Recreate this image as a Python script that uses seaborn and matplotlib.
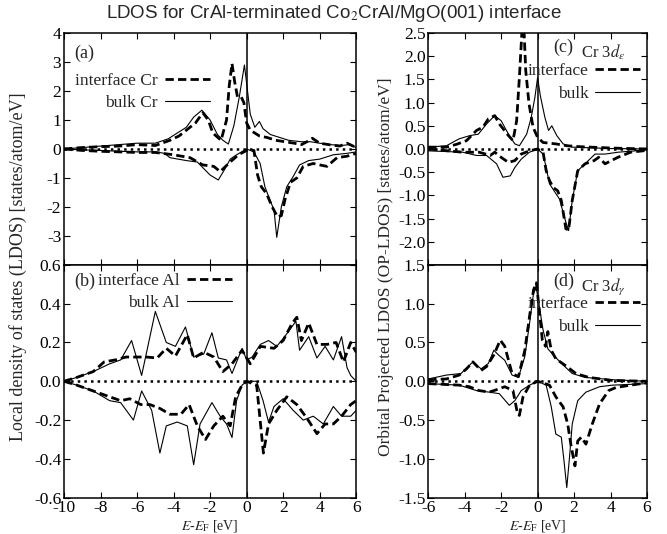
"""
LDOS / OP-LDOS for the CrAl-terminated Co2CrAl/MgO(001) interface.

Four panels: (a) Cr LDOS, (b) Al LDOS, (c) Cr 3d-eps, (d) Cr 3d-gamma.
Dashed = interface layer, thin solid = bulk. Positive = majority, negative = minority.
"""

import matplotlib
matplotlib.use("Agg")
import matplotlib.pyplot as plt
from matplotlib.lines import Line2D
import pandas as pd
import seaborn as sns

# ---- (a) Cr LDOS -------------------------------------------------------------
a_int_up_E = [-10, -9, -8, -7, -6, -5, -4.2, -3.7, -3.2, -2.8, -2.4, -2.1, -1.85, -1.4, -1.1, -0.95,
              -0.8, -0.65, -0.5, -0.3, -0.15, 0.0, 0.2, 0.45, 0.7, 1.1, 1.6, 2.1, 2.6, 3.0, 3.3, 3.6,
              4.0, 4.5, 5.1, 5.5, 6.0]
a_int_up = [0.0, 0.05, 0.08, 0.1, 0.15, 0.12, 0.3, 0.45, 0.7, 0.9, 1.25, 1.0, 0.55, 0.3, 1.0, 2.2,
            2.95, 2.3, 1.8, 1.8, 1.6, 0.9, 0.65, 0.55, 0.45, 0.4, 0.3, 0.25, 0.2, 0.15, 0.25, 0.37,
            0.2, 0.15, 0.1, 0.2, 0.05]
a_bulk_up_E = [-10, -9, -8, -7, -6, -5, -4.3, -3.8, -3.3, -2.9, -2.45, -2.0, -1.6, -1.3, -1.0, -0.7,
               -0.4, -0.12, 0.05, 0.2, 0.45, 0.7, 0.9, 1.3, 1.8, 2.3, 3.0, 3.5, 4.0, 4.6, 5.2, 5.6, 6.0]
a_bulk_up = [0.0, 0.05, 0.1, 0.15, 0.2, 0.2, 0.35, 0.55, 0.75, 1.1, 1.34, 1.0, 0.5, 0.3, 0.17, 0.8,
             1.8, 2.9, 2.0, 1.2, 0.75, 0.95, 0.7, 0.5, 0.4, 0.3, 0.25, 0.25, 0.2, 0.15, 0.12, 0.15, 0.05]
a_int_dn_E = [-10, -9, -8, -7, -6, -5, -4.0, -3.1, -2.4, -1.8, -1.45, -0.9, -0.45, 0.0, 0.4, 0.6,
              0.8, 1.1, 1.4, 1.7, 1.9, 2.1, 2.4, 2.75, 3.1, 3.65, 4.0, 4.4, 4.95, 5.5, 6.0]
a_int_dn = [0.0, -0.05, -0.08, -0.1, -0.12, -0.12, -0.2, -0.3, -0.55, -0.6, -0.78, -0.45, -0.2, -0.05,
            -0.05, -0.9, -1.3, -1.55, -2.0, -2.35, -2.3, -1.75, -1.15, -1.0, -0.6, -0.5, -0.55, -0.6,
            -0.3, -0.25, -0.15]
a_bulk_dn_E = [-10, -9, -8, -7, -6, -5, -4.5, -4.2, -3.3, -2.7, -2.0, -1.55, -1.2, -0.9, -0.55, 0.0,
               0.4, 0.74, 1.0, 1.3, 1.5, 1.65, 1.9, 2.2, 2.55, 2.9, 3.4, 4.0, 4.75, 5.5, 6.0]
a_bulk_dn = [0.0, -0.03, -0.05, -0.08, -0.1, -0.1, -0.15, -0.3, -0.4, -0.45, -0.9, -1.07, -0.7, -0.35,
             -0.2, 0.0, -0.1, -0.5, -1.3, -1.8, -2.1, -3.05, -2.0, -1.3, -0.95, -0.55, -0.4, -0.35,
             -0.2, -0.15, -0.1]

# ---- (b) Al LDOS -------------------------------------------------------------
b_int_up_E = [-10, -9.3, -8.4, -7.8, -7.2, -6.6, -6.0, -5.5, -4.9, -4.4, -3.9, -3.25, -2.9, -2.35,
              -1.8, -1.3, -0.8, -0.25, 0.2, 0.75, 1.5, 2.0, 2.5, 2.75, 3.0, 3.4, 3.85, 4.4, 4.9, 5.3,
              5.7, 6.0]
b_int_up = [0.0, 0.02, 0.05, 0.1, 0.11, 0.125, 0.125, 0.125, 0.12, 0.17, 0.13, 0.24, 0.12, 0.15,
            0.125, 0.05, 0.09, 0.16, 0.09, 0.18, 0.17, 0.21, 0.3, 0.33, 0.21, 0.3, 0.19, 0.19, 0.2,
            0.1, 0.2, 0.15]
b_bulk_up_E = [-10, -9.3, -8.4, -7.5, -6.9, -6.3, -5.75, -5.0, -4.4, -3.9, -3.35, -2.9, -2.35, -1.9,
               -1.55, -1.1, -0.8, -0.25, 0.0, 0.3, 0.75, 1.2, 1.65, 2.0, 2.4, 2.7, 2.9, 3.4, 3.85,
               4.3, 4.75, 5.2, 5.5, 5.7, 6.0]
b_bulk_up = [0.0, 0.02, 0.05, 0.09, 0.11, 0.21, 0.03, 0.36, 0.2, 0.18, 0.28, 0.125, 0.14, 0.25, 0.12,
             0.11, 0.04, 0.17, 0.11, 0.125, 0.19, 0.21, 0.18, 0.22, 0.27, 0.31, 0.16, 0.23, 0.12,
             0.18, 0.11, 0.23, 0.07, 0.03, 0.0]
b_int_dn_E = [-10, -9.3, -8.4, -7.5, -6.9, -6.4, -5.8, -5.3, -4.75, -4.2, -3.6, -3.15, -2.7, -2.25,
              -1.8, -1.3, -0.9, -0.6, -0.25, 0.0, 0.55, 0.75, 0.92, 1.2, 1.65, 2.2, 2.75, 3.3, 3.85,
              4.3, 4.75, 5.2, 5.7, 6.0]
b_int_dn = [0.0, -0.02, -0.05, -0.08, -0.1, -0.09, -0.12, -0.12, -0.14, -0.17, -0.17, -0.12, -0.23,
            -0.3, -0.23, -0.18, -0.23, -0.08, -0.02, 0.0, -0.02, -0.21, -0.37, -0.22, -0.15, -0.08,
            -0.12, -0.19, -0.27, -0.22, -0.22, -0.18, -0.12, -0.1]
b_bulk_dn_E = [-10, -9.3, -8.4, -7.5, -6.9, -6.2, -5.75, -5.2, -4.75, -4.4, -3.8, -3.25, -2.9, -2.55,
               -1.9, -1.45, -1.1, -0.8, -0.55, -0.25, 0.0, 0.55, 0.9, 1.2, 1.5, 2.0, 2.55, 3.1, 3.65,
               4.2, 4.75, 5.2, 5.7, 6.0]
b_bulk_dn = [0.0, -0.02, -0.05, -0.1, -0.11, -0.2, -0.05, -0.15, -0.37, -0.23, -0.21, -0.23, -0.43,
             -0.22, -0.11, -0.18, -0.22, -0.29, -0.1, -0.02, 0.0, 0.0, -0.1, -0.21, -0.13, -0.09,
             -0.15, -0.2, -0.18, -0.22, -0.13, -0.18, -0.18, -0.15]

# ---- (c) Cr 3d-eps -----------------------------------------------------------
c_int_up_E = [-6, -5, -4.45, -3.9, -3.35, -3.0, -2.7, -2.35, -2.1, -1.6, -1.35, -1.15, -1.0, -0.85,
              -0.75, -0.65, -0.47, -0.25, 0.0, 0.3, 1.0, 1.6, 2.3, 4.1, 6.0]
c_int_up = [0.04, 0.04, 0.1, 0.18, 0.4, 0.47, 0.65, 0.72, 0.54, 0.29, 0.18, 0.61, 1.54, 2.6, 2.6,
            1.69, 0.97, 0.47, 0.25, 0.14, 0.11, 0.07, 0.05, 0.02, 0.0]
c_bulk_up_E = [-6, -5, -4.3, -3.7, -3.25, -2.8, -2.35, -2.0, -1.6, -1.25, -1.0, -0.6, -0.35, -0.15,
               0.0, 0.15, 0.4, 0.6, 0.78, 1.05, 1.4, 1.9, 4.0, 6.0]
c_bulk_up = [0.04, 0.07, 0.22, 0.29, 0.32, 0.54, 0.72, 0.61, 0.32, 0.11, 0.07, 0.32, 0.68, 1.11,
             1.54, 1.15, 0.68, 0.4, 0.5, 0.29, 0.11, 0.04, 0.01, 0.0]
c_int_dn_E = [-6, -4.1, -3.2, -2.6, -2.35, -2.0, -1.6, -1.25, -0.9, -0.45, 0.0, 0.3, 0.47, 0.65,
              0.85, 1.1, 1.3, 1.55, 1.7, 1.9, 2.2, 2.6, 3.1, 3.35, 3.7, 4.4, 5.1, 6.0]
c_int_dn = [0.0, -0.07, -0.07, -0.14, -0.07, -0.18, -0.29, -0.25, -0.11, -0.04, 0.0, -0.07, -0.47,
            -0.68, -0.83, -0.9, -1.11, -1.72, -1.75, -1.11, -0.47, -0.32, -0.25, -0.18, -0.32,
            -0.18, -0.07, -0.03]
c_bulk_dn_E = [-6, -4.1, -3.35, -2.8, -2.25, -1.9, -1.5, -1.25, -0.9, -0.45, 0.0, 0.3, 0.47, 0.65,
               0.95, 1.2, 1.55, 1.7, 1.9, 2.2, 2.6, 3.15, 3.7, 4.4, 6.0]
c_bulk_dn = [-0.04, -0.07, -0.14, -0.14, -0.32, -0.61, -0.58, -0.4, -0.22, -0.07, 0.0, -0.11, -0.4,
             -0.75, -0.93, -1.08, -1.58, -1.76, -1.11, -0.47, -0.32, -0.11, -0.11, -0.07, -0.02]

# ---- (d) Cr 3d-gamma ---------------------------------------------------------
d_int_up_E = [-6, -5, -4.3, -3.9, -3.55, -3.1, -2.8, -2.4, -2.05, -1.8, -1.4, -1.05, -0.7, -0.44,
              -0.22, -0.07, 0.07, 0.26, 0.44, 0.56, 0.75, 1.0, 1.6, 2.1, 2.8, 4.1, 6.0]
d_int_up = [0.02, 0.03, 0.08, 0.16, 0.25, 0.14, 0.19, 0.34, 0.53, 0.45, 0.1, 0.06, 0.4, 0.84, 1.18,
            1.27, 0.97, 0.53, 0.45, 0.64, 0.4, 0.29, 0.19, 0.1, 0.05, 0.01, 0.0]
d_bulk_up_E = [-6, -5, -4.2, -3.55, -3.1, -2.7, -2.4, -2.15, -1.8, -1.4, -1.05, -0.7, -0.44, -0.22,
               -0.07, 0.07, 0.3, 0.56, 0.85, 1.4, 1.9, 2.6, 4.1, 6.0]
d_bulk_up = [0.03, 0.08, 0.1, 0.25, 0.16, 0.23, 0.4, 0.34, 0.27, 0.08, 0.05, 0.32, 0.75, 1.14, 1.2,
             1.0, 0.66, 0.42, 0.34, 0.21, 0.1, 0.05, 0.02, 0.0]
d_int_dn_E = [-6, -4.3, -3.75, -3.2, -2.65, -2.15, -1.8, -1.35, -1.1, -1.0, -0.8, -0.44, 0.0, 0.65,
              1.0, 1.4, 1.65, 1.85, 2.05, 2.2, 2.4, 2.65, 3.0, 3.4, 3.9, 4.3, 5.1, 6.0]
d_int_dn = [-0.03, -0.05, -0.07, -0.12, -0.14, -0.1, -0.07, -0.12, -0.42, -0.44, -0.2, -0.05, 0.0,
            -0.05, -0.2, -0.33, -0.55, -0.85, -1.09, -0.77, -0.72, -0.81, -0.55, -0.29, -0.12,
            -0.08, -0.05, -0.02]
d_bulk_dn_E = [-6, -4.3, -3.35, -2.65, -2.1, -1.55, -1.25, -0.9, -0.44, 0.0, 0.47, 0.75, 1.0, 1.3,
               1.45, 1.6, 1.75, 1.9, 2.2, 2.65, 3.4, 4.1, 6.0]
d_bulk_dn = [-0.03, -0.05, -0.12, -0.14, -0.16, -0.31, -0.25, -0.12, -0.05, 0.0, -0.05, -0.33, -0.68,
             -0.72, -1.03, -1.37, -0.98, -0.55, -0.25, -0.14, -0.07, -0.05, -0.03]

TITLE = "LDOS for CrAl-terminated Co$_2$CrAl/MgO(001) interface"
YLAB_L = "Local density of states (LDOS) [states/atom/eV]"
YLAB_R = "Orbital Projected LDOS (OP-LDOS) [states/atom/eV]"
XLAB = "$E$-$E_{\\rm F}$ [eV]"

sns.set_theme(style="ticks")
plt.rcParams["font.family"] = ["Liberation Serif", "DejaVu Serif"]
plt.rcParams["mathtext.fontset"] = "stix"
plt.rcParams["axes.unicode_minus"] = False
plt.rcParams["axes.linewidth"] = 1.1

DASH = (3, 1.5)
STYLE = {"interface": dict(lw=2.0, dashes=DASH), "bulk": dict(lw=0.8, dashes="")}


def _frame(curves):
    rows = []
    for E, dos, site, spin in curves:
        rows.append(pd.DataFrame({"E": E, "dos": dos, "site": site, "spin": spin}))
    return pd.concat(rows, ignore_index=True)


def _draw(ax, df, xlim, ylim, yticks, fmt, hide_bottom_ytick=False, xlabels=True):
    sns.lineplot(
        data=df, x="E", y="dos", style="site", size="site", units="spin",
        estimator=None, sort=False, color="black", legend=False, ax=ax,
        dashes={k: v["dashes"] for k, v in STYLE.items()},
        sizes={k: v["lw"] for k, v in STYLE.items()},
    )
    ax.axhline(0, color="black", ls=":", lw=1.8, zorder=3)
    ax.axvline(0, color="black", lw=1.1, zorder=3)
    ax.set_xlim(*xlim)
    ax.set_ylim(*ylim)
    ax.set_yticks(yticks)
    labels = [fmt.format(t) for t in yticks]
    if hide_bottom_ytick:
        labels[0] = ""
    ax.set_yticklabels(labels)
    ax.set_xticks(range(int(xlim[0]), int(xlim[1]) + 1, 2))
    if not xlabels:
        ax.set_xticklabels([])
    ax.tick_params(direction="in", top=True, right=True, length=4, width=0.8,
                   labelsize=12.5, pad=2, colors="black")
    ax.set_xlabel("")
    ax.set_ylabel("")
    for s in ax.spines.values():
        s.set_color("black")


def _legend(ax, labels, anchor):
    handles = [Line2D([], [], color="black", lw=STYLE["interface"]["lw"], dashes=DASH),
               Line2D([], [], color="black", lw=STYLE["bulk"]["lw"])]
    ax.legend(handles, labels, loc="upper right", bbox_to_anchor=anchor, frameon=False,
              markerfirst=False, fontsize=12.5, handlelength=2.6, handletextpad=0.4,
              labelspacing=0.35, borderpad=0, borderaxespad=0)


fig = plt.figure(figsize=(6.67, 5.34), dpi=100)
ax_a = fig.add_axes([0.096, 0.504, 0.438, 0.434])
ax_b = fig.add_axes([0.096, 0.068, 0.438, 0.436])
ax_c = fig.add_axes([0.642, 0.504, 0.328, 0.434])
ax_d = fig.add_axes([0.642, 0.068, 0.328, 0.436])

df_a = _frame([(a_int_up_E, a_int_up, "interface", "up"), (a_int_dn_E, a_int_dn, "interface", "dn"),
               (a_bulk_up_E, a_bulk_up, "bulk", "up"), (a_bulk_dn_E, a_bulk_dn, "bulk", "dn")])
df_b = _frame([(b_int_up_E, b_int_up, "interface", "up"), (b_int_dn_E, b_int_dn, "interface", "dn"),
               (b_bulk_up_E, b_bulk_up, "bulk", "up"), (b_bulk_dn_E, b_bulk_dn, "bulk", "dn")])
df_c = _frame([(c_int_up_E, c_int_up, "interface", "up"), (c_int_dn_E, c_int_dn, "interface", "dn"),
               (c_bulk_up_E, c_bulk_up, "bulk", "up"), (c_bulk_dn_E, c_bulk_dn, "bulk", "dn")])
df_d = _frame([(d_int_up_E, d_int_up, "interface", "up"), (d_int_dn_E, d_int_dn, "interface", "dn"),
               (d_bulk_up_E, d_bulk_up, "bulk", "up"), (d_bulk_dn_E, d_bulk_dn, "bulk", "dn")])

_draw(ax_a, df_a, (-10, 6), (-4, 4), [-4, -3, -2, -1, 0, 1, 2, 3, 4], "{:g}", True, xlabels=False)
_draw(ax_b, df_b, (-10, 6), (-0.6, 0.6), [-0.6, -0.4, -0.2, 0.0, 0.2, 0.4, 0.6], "{:.1f}")
_draw(ax_c, df_c, (-6, 6), (-2.5, 2.5), [-2.5, -2.0, -1.5, -1.0, -0.5, 0.0, 0.5, 1.0, 1.5, 2.0, 2.5],
      "{:.1f}", True, xlabels=False)
_draw(ax_d, df_d, (-6, 6), (-1.5, 1.5), [-1.5, -1.0, -0.5, 0.0, 0.5, 1.0, 1.5], "{:.1f}")

# panel tags and legends
ax_a.text(0.035, 0.95, "(a)", transform=ax_a.transAxes, fontsize=13, va="top")
_legend(ax_a, ["interface Cr", "bulk Cr"], (0.5, 0.83))
ax_b.text(0.035, 0.965, "(b)", transform=ax_b.transAxes, fontsize=13, va="top")
_legend(ax_b, ["interface Al", "bulk Al"], (0.575, 0.965))
ax_c.text(0.57, 0.975, "(c)", transform=ax_c.transAxes, fontsize=13, va="top")
ax_c.text(0.70, 0.96, "Cr 3$d_\\varepsilon$", transform=ax_c.transAxes, fontsize=12, va="top")
_legend(ax_c, ["interface", "bulk"], (0.97, 0.87))
ax_d.text(0.57, 0.965, "(d)", transform=ax_d.transAxes, fontsize=13, va="top")
ax_d.text(0.70, 0.95, "Cr 3$d_\\gamma$", transform=ax_d.transAxes, fontsize=12, va="top")
_legend(ax_d, ["interface", "bulk"], (0.97, 0.865))

ax_b.set_xlabel(XLAB, fontsize=10, labelpad=1)
ax_d.set_xlabel(XLAB, fontsize=10, labelpad=1)
fig.text(0.027, 0.5, YLAB_L, rotation=90, va="center", ha="center", fontsize=13)
fig.text(0.578, 0.5, YLAB_R, rotation=90, va="center", ha="center", fontsize=12.5)
fig.text(0.5, 0.975, TITLE, ha="center", va="center", fontsize=13.5,
         family=["Liberation Sans", "DejaVu Sans"])

fig.savefig("out.png", dpi=100)
plt.close(fig)
